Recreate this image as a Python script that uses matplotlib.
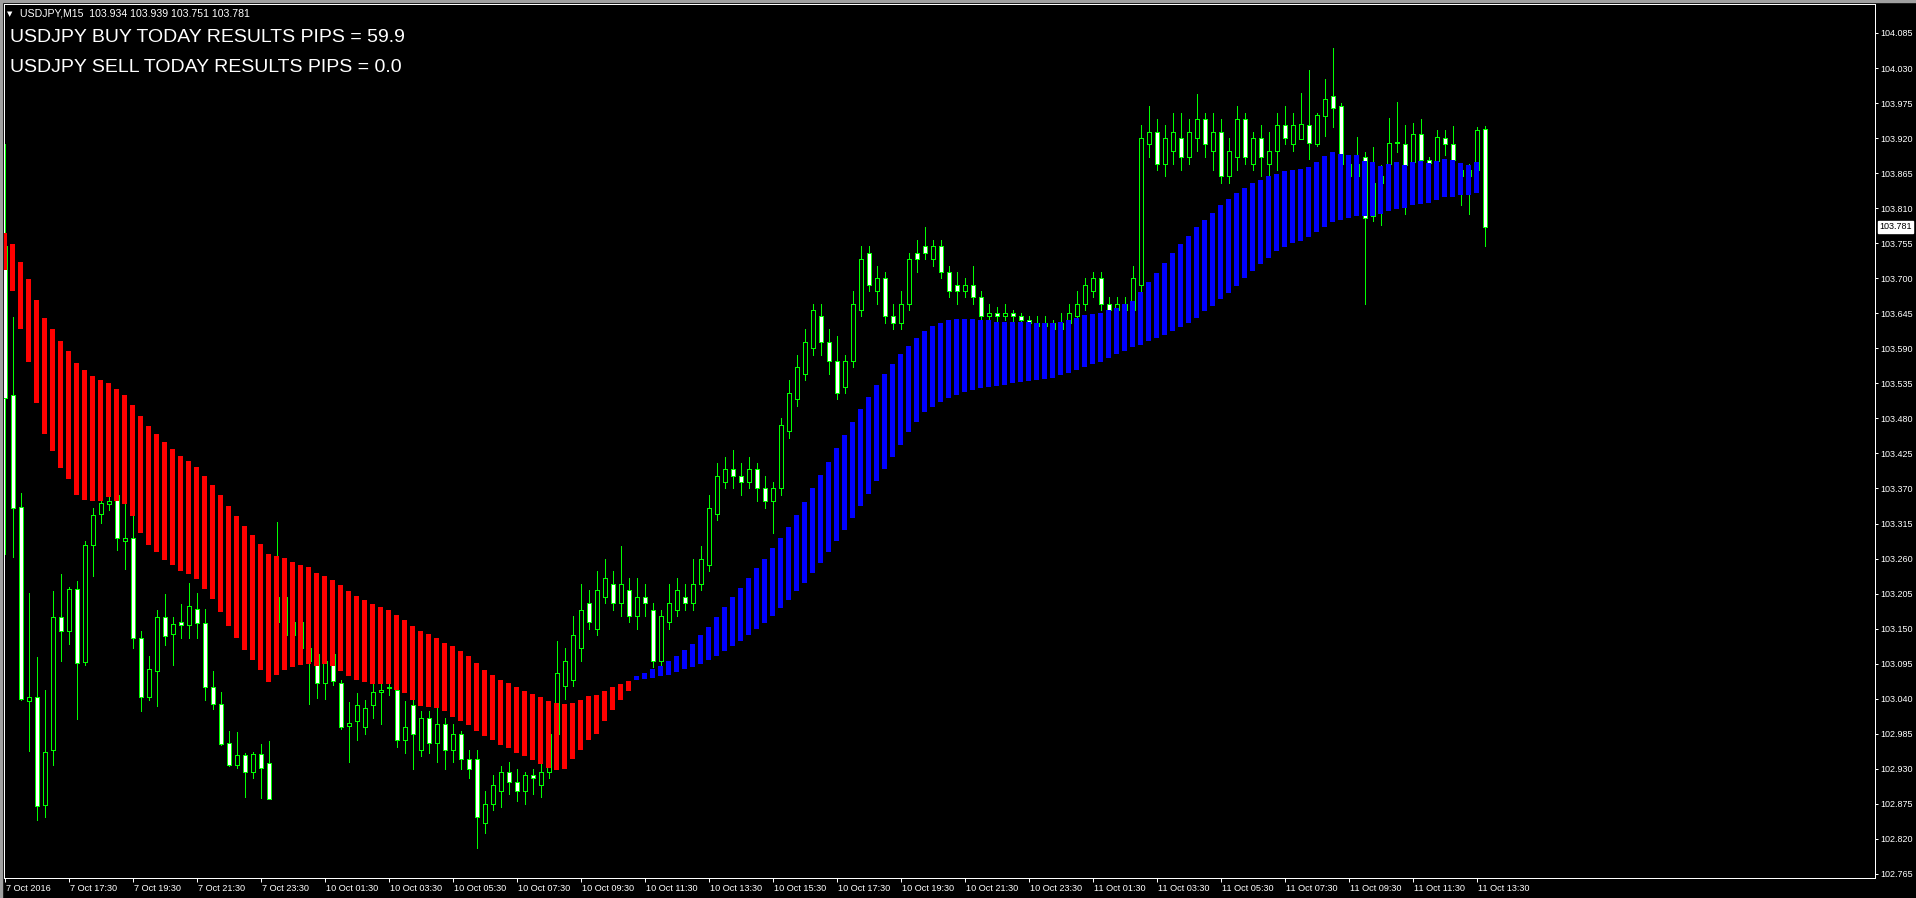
import matplotlib
matplotlib.use("Agg")
import matplotlib.pyplot as plt
from matplotlib.patches import Rectangle
import matplotlib.transforms as mtransforms

# ---- data (USDJPY M15, one bar per 15 minutes, bar 0 = 7 Oct 15:30) ----
opens = [
    103.750, 103.516, 103.341, 103.037, 103.043, 102.873, 102.959, 103.168, 103.146, 103.213,
    103.097, 103.281, 103.330, 103.345, 103.360, 103.288, 103.292, 103.136, 103.042, 103.084,
    103.168, 103.141, 103.160, 103.155, 103.181, 103.159, 103.058, 103.031, 102.970, 102.936,
    102.952, 102.925, 102.953, 102.939, 103.160, 103.200, 103.140, 103.160, 103.120, 103.110,
    103.064, 103.110, 103.064, 102.997, 103.005, 102.995, 103.030, 103.050, 103.057, 103.054,
    102.975, 103.030, 102.960, 103.010, 102.970, 103.000, 102.960, 102.985, 102.945, 102.945,
    102.845, 102.875, 102.895, 102.925, 102.910, 102.895, 102.920, 102.905, 102.925, 102.985,
    103.060, 103.070, 103.120, 103.190, 103.150, 103.200, 103.220, 103.190, 103.210, 103.170,
    103.200, 103.180, 103.100, 103.160, 103.180, 103.200, 103.190, 103.220, 103.250, 103.330,
    103.380, 103.400, 103.390, 103.380, 103.400, 103.370, 103.350, 103.370, 103.460, 103.510,
    103.550, 103.590, 103.640, 103.600, 103.570, 103.530, 103.570, 103.650, 103.740, 103.680,
    103.700, 103.640, 103.630, 103.660, 103.740, 103.750, 103.730, 103.750, 103.710, 103.690,
    103.680, 103.690, 103.670, 103.640, 103.645, 103.640, 103.645, 103.640, 103.635, 103.630,
    103.625, 103.630, 103.620, 103.630, 103.640, 103.660, 103.680, 103.700, 103.660, 103.650,
    103.660, 103.650, 103.690, 103.910, 103.930, 103.880, 103.900, 103.920, 103.890, 103.920,
    103.950, 103.900, 103.930, 103.860, 103.890, 103.950, 103.880, 103.920, 103.880, 103.900,
    103.940, 103.910, 103.918, 103.940, 103.911, 103.955, 103.986, 103.970, 103.880, 103.860,
    103.891, 103.797, 103.850, 103.879, 103.913, 103.910, 103.882, 103.927, 103.885, 103.884,
    103.920, 103.910, 103.870, 103.860, 103.870, 103.934]
highs = [
    103.911, 103.639, 103.363, 103.206, 103.105, 103.054, 103.209, 103.236, 103.216, 103.225,
    103.288, 103.339, 103.360, 103.370, 103.370, 103.346, 103.327, 103.147, 103.107, 103.180,
    103.204, 103.168, 103.188, 103.222, 103.206, 103.181, 103.084, 103.050, 102.990, 102.988,
    102.955, 102.957, 102.969, 102.973, 103.318, 103.240, 103.190, 103.200, 103.150, 103.130,
    103.120, 103.130, 103.069, 103.035, 103.049, 103.038, 103.064, 103.063, 103.063, 103.058,
    103.036, 103.040, 103.020, 103.020, 103.030, 103.010, 103.000, 102.990, 102.960, 102.960,
    102.895, 102.920, 102.935, 102.940, 102.930, 102.925, 102.930, 102.945, 103.020, 103.130,
    103.120, 103.170, 103.220, 103.210, 103.240, 103.260, 103.240, 103.280, 103.230, 103.230,
    103.220, 103.190, 103.180, 103.220, 103.230, 103.220, 103.260, 103.280, 103.360, 103.410,
    103.420, 103.430, 103.410, 103.420, 103.410, 103.390, 103.380, 103.480, 103.540, 103.580,
    103.620, 103.660, 103.660, 103.620, 103.610, 103.580, 103.680, 103.750, 103.750, 103.720,
    103.710, 103.660, 103.680, 103.740, 103.760, 103.780, 103.760, 103.760, 103.720, 103.710,
    103.700, 103.720, 103.680, 103.660, 103.655, 103.660, 103.650, 103.645, 103.640, 103.640,
    103.640, 103.635, 103.645, 103.660, 103.680, 103.700, 103.710, 103.710, 103.670, 103.670,
    103.670, 103.720, 103.940, 103.970, 103.950, 103.940, 103.960, 103.960, 103.950, 103.990,
    103.960, 103.960, 103.950, 103.920, 103.970, 103.960, 103.930, 103.940, 103.930, 103.960,
    103.970, 103.960, 103.991, 104.027, 103.960, 104.012, 104.061, 103.975, 103.890, 103.922,
    103.898, 103.906, 103.878, 103.952, 103.977, 103.941, 103.944, 103.950, 103.890, 103.933,
    103.933, 103.939, 103.880, 103.880, 103.938, 103.939]
lows = [
    103.267, 103.262, 103.038, 102.958, 102.850, 102.855, 102.936, 103.100, 103.126, 103.008,
    103.093, 103.232, 103.316, 103.337, 103.273, 103.243, 103.119, 103.020, 103.038, 103.028,
    103.125, 103.093, 103.136, 103.136, 103.136, 103.038, 103.024, 102.967, 102.934, 102.932,
    102.885, 102.915, 102.884, 102.882, 103.120, 103.120, 103.100, 103.100, 103.032, 103.041,
    103.039, 103.061, 102.993, 102.940, 102.975, 102.985, 103.010, 103.000, 103.046, 102.965,
    102.955, 102.930, 102.950, 102.955, 102.940, 102.930, 102.940, 102.930, 102.915, 102.805,
    102.830, 102.865, 102.870, 102.890, 102.880, 102.875, 102.890, 102.885, 102.915, 102.970,
    103.040, 103.060, 103.100, 103.150, 103.140, 103.190, 103.180, 103.170, 103.160, 103.150,
    103.170, 103.090, 103.090, 103.150, 103.170, 103.180, 103.180, 103.210, 103.240, 103.320,
    103.370, 103.370, 103.360, 103.370, 103.350, 103.340, 103.300, 103.360, 103.450, 103.500,
    103.540, 103.580, 103.580, 103.550, 103.510, 103.520, 103.560, 103.640, 103.680, 103.660,
    103.630, 103.620, 103.620, 103.650, 103.710, 103.730, 103.720, 103.700, 103.670, 103.660,
    103.670, 103.660, 103.630, 103.630, 103.630, 103.635, 103.630, 103.620, 103.620, 103.615,
    103.615, 103.610, 103.610, 103.620, 103.630, 103.650, 103.670, 103.650, 103.640, 103.640,
    103.640, 103.640, 103.680, 103.890, 103.870, 103.860, 103.880, 103.870, 103.880, 103.900,
    103.890, 103.870, 103.850, 103.850, 103.870, 103.880, 103.870, 103.860, 103.860, 103.870,
    103.910, 103.900, 103.918, 103.887, 103.907, 103.923, 103.938, 103.870, 103.850, 103.850,
    103.660, 103.790, 103.784, 103.870, 103.898, 103.801, 103.870, 103.880, 103.850, 103.870,
    103.894, 103.850, 103.815, 103.801, 103.860, 103.751]
closes = [
    103.512, 103.339, 103.040, 103.043, 102.871, 102.957, 103.168, 103.146, 103.213, 103.096,
    103.281, 103.328, 103.348, 103.350, 103.292, 103.292, 103.136, 103.042, 103.086, 103.169,
    103.138, 103.157, 103.155, 103.185, 103.159, 103.059, 103.031, 102.969, 102.936, 102.952,
    102.925, 102.953, 102.932, 102.883, 103.200, 103.140, 103.160, 103.120, 103.100, 103.064,
    103.100, 103.068, 102.995, 103.002, 103.030, 103.026, 103.050, 103.054, 103.057, 102.975,
    102.995, 102.985, 103.010, 102.970, 103.000, 102.960, 102.985, 102.945, 102.930, 102.855,
    102.875, 102.905, 102.925, 102.910, 102.895, 102.920, 102.915, 102.925, 102.985, 103.080,
    103.100, 103.140, 103.180, 103.160, 103.210, 103.230, 103.190, 103.220, 103.170, 103.200,
    103.190, 103.100, 103.170, 103.190, 103.210, 103.190, 103.220, 103.260, 103.340, 103.390,
    103.400, 103.390, 103.380, 103.400, 103.370, 103.350, 103.370, 103.470, 103.520, 103.560,
    103.600, 103.650, 103.600, 103.570, 103.520, 103.570, 103.660, 103.730, 103.690, 103.700,
    103.640, 103.630, 103.660, 103.730, 103.730, 103.740, 103.750, 103.710, 103.680, 103.680,
    103.690, 103.670, 103.640, 103.645, 103.640, 103.645, 103.640, 103.635, 103.630, 103.625,
    103.630, 103.620, 103.630, 103.645, 103.660, 103.690, 103.700, 103.660, 103.650, 103.660,
    103.650, 103.700, 103.920, 103.930, 103.880, 103.920, 103.930, 103.890, 103.930, 103.950,
    103.910, 103.930, 103.860, 103.900, 103.950, 103.890, 103.920, 103.890, 103.900, 103.940,
    103.920, 103.940, 103.942, 103.913, 103.957, 103.982, 103.968, 103.880, 103.860, 103.880,
    103.795, 103.850, 103.860, 103.913, 103.913, 103.878, 103.926, 103.885, 103.881, 103.921,
    103.910, 103.886, 103.860, 103.870, 103.932, 103.781]

# indicator band: red (bars 0-78), blue (bars 79-184)
red_top = [
    103.771, 103.754, 103.725, 103.699, 103.666, 103.638, 103.620, 103.601, 103.586, 103.567,
    103.556, 103.547, 103.540, 103.536, 103.526, 103.517, 103.501, 103.484, 103.468, 103.456,
    103.443, 103.432, 103.421, 103.413, 103.403, 103.390, 103.376, 103.360, 103.343, 103.327,
    103.311, 103.297, 103.283, 103.267, 103.264, 103.261, 103.254, 103.250, 103.246, 103.238,
    103.233, 103.226, 103.219, 103.209, 103.201, 103.195, 103.189, 103.184, 103.179, 103.171,
    103.164, 103.154, 103.146, 103.142, 103.136, 103.128, 103.122, 103.115, 103.107, 103.096,
    103.085, 103.077, 103.070, 103.064, 103.058, 103.052, 103.047, 103.042, 103.037, 103.034,
    103.032, 103.034, 103.038, 103.045, 103.046, 103.052, 103.058, 103.063, 103.068]
red_bot = [
    103.713, 103.680, 103.620, 103.568, 103.504, 103.456, 103.429, 103.402, 103.385, 103.360,
    103.352, 103.350, 103.350, 103.357, 103.350, 103.346, 103.327, 103.300, 103.281, 103.270,
    103.258, 103.250, 103.240, 103.236, 103.228, 103.212, 103.197, 103.176, 103.154, 103.136,
    103.117, 103.101, 103.085, 103.066, 103.077, 103.085, 103.090, 103.093, 103.095, 103.091,
    103.095, 103.091, 103.084, 103.076, 103.070, 103.066, 103.063, 103.063, 103.063, 103.054,
    103.049, 103.038, 103.029, 103.027, 103.026, 103.020, 103.012, 103.005, 102.998, 102.990,
    102.982, 102.975, 102.968, 102.962, 102.955, 102.950, 102.944, 102.938, 102.932, 102.928,
    102.930, 102.945, 102.960, 102.975, 102.985, 103.005, 103.022, 103.038, 103.052]
blue_top = [
    103.076, 103.080, 103.086, 103.091, 103.099, 103.107, 103.116, 103.126, 103.140, 103.153,
    103.168, 103.184, 103.199, 103.214, 103.230, 103.245, 103.260, 103.276, 103.293, 103.310,
    103.329, 103.349, 103.370, 103.391, 103.412, 103.433, 103.454, 103.475, 103.494, 103.514,
    103.533, 103.550, 103.565, 103.581, 103.594, 103.606, 103.617, 103.625, 103.630, 103.634,
    103.636, 103.636, 103.636, 103.634, 103.634, 103.632, 103.632, 103.632, 103.632, 103.632,
    103.630, 103.630, 103.630, 103.632, 103.634, 103.638, 103.642, 103.644, 103.646, 103.650,
    103.654, 103.659, 103.665, 103.678, 103.694, 103.709, 103.724, 103.740, 103.753, 103.767,
    103.780, 103.792, 103.803, 103.815, 103.824, 103.834, 103.841, 103.849, 103.855, 103.861,
    103.864, 103.868, 103.870,
    103.871, 103.875, 103.883, 103.892, 103.898, 103.895, 103.894, 103.894, 103.884, 103.883,
    103.876, 103.879, 103.883, 103.878, 103.883, 103.884, 103.881, 103.884, 103.887, 103.886,
    103.881, 103.878, 103.883]
blue_bot = [
    103.069, 103.071, 103.072, 103.076, 103.078, 103.082, 103.086, 103.090, 103.095, 103.101,
    103.107, 103.115, 103.122, 103.130, 103.140, 103.149, 103.159, 103.170, 103.182, 103.195,
    103.209, 103.222, 103.237, 103.253, 103.270, 103.287, 103.305, 103.324, 103.343, 103.362,
    103.381, 103.400, 103.420, 103.439, 103.458, 103.475, 103.490, 103.498, 103.506, 103.512,
    103.517, 103.521, 103.525, 103.527, 103.529, 103.531, 103.533, 103.535, 103.537, 103.538,
    103.540, 103.542, 103.544, 103.548, 103.552, 103.556, 103.561, 103.565, 103.569, 103.575,
    103.581, 103.586, 103.592, 103.596, 103.602, 103.607, 103.611, 103.617, 103.623, 103.630,
    103.638, 103.648, 103.657, 103.667, 103.677, 103.688, 103.700, 103.711, 103.723, 103.732,
    103.742, 103.749, 103.755,
    103.759, 103.765, 103.773, 103.781, 103.788, 103.792, 103.795, 103.798, 103.798, 103.798,
    103.801, 103.806, 103.809, 103.811, 103.815, 103.817, 103.818, 103.823, 103.827, 103.828,
    103.830, 103.830, 103.834]

time_labels = ["7 Oct 2016", "7 Oct 17:30", "7 Oct 19:30", "7 Oct 21:30", "7 Oct 23:30",
               "10 Oct 01:30", "10 Oct 03:30", "10 Oct 05:30", "10 Oct 07:30", "10 Oct 09:30",
               "10 Oct 11:30", "10 Oct 13:30", "10 Oct 15:30", "10 Oct 17:30", "10 Oct 19:30",
               "10 Oct 21:30", "10 Oct 23:30", "11 Oct 01:30", "11 Oct 03:30", "11 Oct 05:30",
               "11 Oct 07:30", "11 Oct 09:30", "11 Oct 11:30", "11 Oct 13:30"]
price_ticks = [102.765, 102.820, 102.875, 102.930, 102.985, 103.040, 103.095, 103.150, 103.205,
               103.260, 103.315, 103.370, 103.425, 103.480, 103.535, 103.590, 103.645, 103.700,
               103.755, 103.810, 103.865, 103.920, 103.975, 104.030, 104.085]
last_price = 103.781
buy_pips = 59.9
sell_pips = 0.0

# ---- figure ----
W, H = 1916, 898
px = 72 / 100  # one pixel in points
fig = plt.figure(figsize=(W / 100, H / 100), dpi=100, facecolor="black")
ax = fig.add_axes([4 / W, 1 - 877.5 / H, 1871 / W, 873 / H])
ax.set_facecolor("black")

n = len(opens)
x = list(range(n))
lime = "#00ff00"

# wicks
ax.vlines(x, lows, highs, color=lime, lw=px, zorder=2, antialiased=False)
# bodies: bearish = white, bullish = black, both outlined in lime
body_bot = [min(o, c) for o, c in zip(opens, closes)]
body_h = [max(abs(c - o), 0.0008) for o, c in zip(opens, closes)]
face = ["white" if c < o else "black" for o, c in zip(opens, closes)]
ax.bar(x, body_h, bottom=body_bot, width=0.5, color=face, edgecolor=lime,
       linewidth=px, zorder=3, antialiased=False)

# band histogram drawn over the candles
xr = list(range(len(red_top)))
ax.bar(xr, [t - b for t, b in zip(red_top, red_bot)], bottom=red_bot, width=0.6,
       color="#ff0000", linewidth=0, zorder=4, antialiased=False)
xb = [len(red_top) + k for k in range(len(blue_top))]
ax.bar(xb, [t - b for t, b in zip(blue_top, blue_bot)], bottom=blue_bot, width=0.6,
       color="#0000ff", linewidth=0, zorder=4, antialiased=False)

ax.set_xlim(-0.0875, 233.79)
ax.set_ylim(102.7594, 104.1297)

for s in ax.spines.values():
    s.set_color("white")
    s.set_linewidth(px)

# right price scale
ax.yaxis.tick_right()
ax.set_yticks(price_ticks)
ax.set_yticklabels(["%.3f" % v for v in price_ticks])
ax.tick_params(axis="y", colors="white", length=3 * px, width=px, pad=2,
               labelsize=6.5, labelfontfamily="Liberation Sans")

# time scale
ax.set_xticks([8 * k for k in range(len(time_labels))])
ax.set_xticklabels(time_labels)
ax.tick_params(axis="x", colors="white", length=4 * px, width=px, pad=1.5,
               labelsize=6.6, labelfontfamily="Liberation Sans")
for lab in ax.get_xticklabels():
    lab.set_horizontalalignment("left")
    lab.set_transform(lab.get_transform() + mtransforms.ScaledTranslation(1 / 100, 0, fig.dpi_scale_trans))

# current price marker on the scale
ax.annotate("%.3f" % last_price, xy=(1, last_price), xycoords=("axes fraction", "data"),
            xytext=(3, 0), textcoords="offset points", va="center", ha="left",
            fontsize=6.5, family="Liberation Sans", color="black",
            bbox=dict(boxstyle="square,pad=0.15", fc="white", ec="white"),
            annotation_clip=False)

# header texts
fig.text(7 / W, 1 - 14 / H, "\u25bc", color="white", fontsize=5, va="center",
         family="DejaVu Sans")
fig.text(20 / W, 1 - 14 / H, "USDJPY,M15  %.3f %.3f %.3f %.3f" % (opens[-1], highs[-1], lows[-1], closes[-1]),
         color="white", fontsize=7.6, va="center", family="Liberation Sans")
fig.text(10 / W, 1 - 42 / H, "USDJPY BUY TODAY RESULTS PIPS = %.1f" % buy_pips,
         color="white", fontsize=14, va="baseline", family="Liberation Sans")
fig.text(10 / W, 1 - 72 / H, "USDJPY SELL TODAY RESULTS PIPS = %.1f" % sell_pips,
         color="white", fontsize=14, va="baseline", family="Liberation Sans")

# window edges
fig.patches.append(Rectangle((0, 1 - 2 / H), 1, 2 / H, transform=fig.transFigure,
                             color="#a0a0a0", zorder=0))
fig.patches.append(Rectangle((0, 0), 2 / W, 1, transform=fig.transFigure,
                             color="#a0a0a0", zorder=0))

fig.savefig("out.png", dpi=100, facecolor="black")
